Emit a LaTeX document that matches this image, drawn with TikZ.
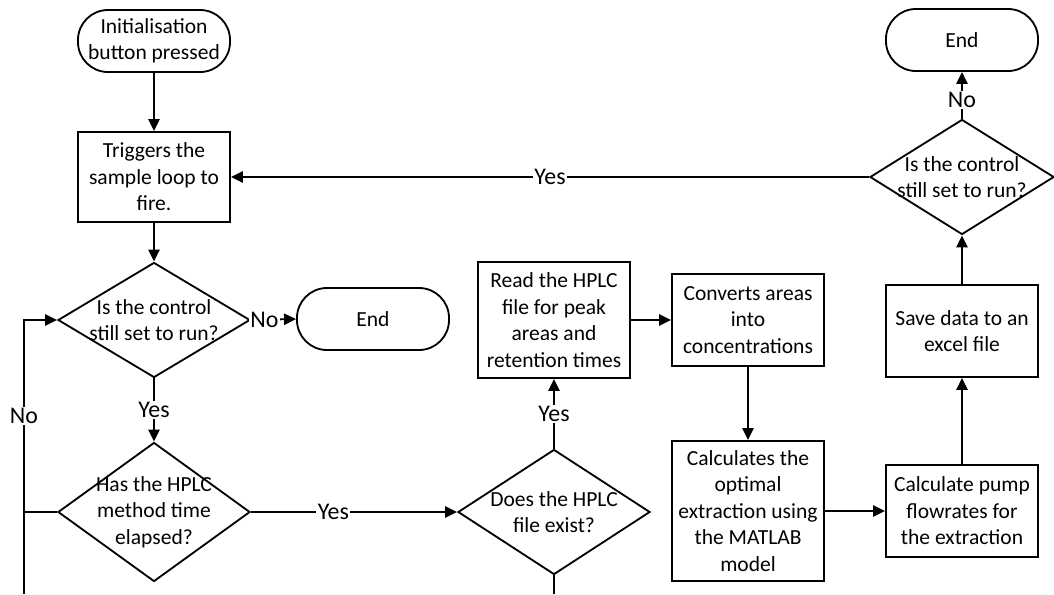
\documentclass[tikz,border=0pt]{standalone}
\usepackage{fontspec}
\setmainfont{Carlito}
\usetikzlibrary{shapes.geometric}
\usetikzlibrary{arrows.meta}

\begin{document}
\begin{tikzpicture}[x=0.025cm, y=-0.025cm, line width=1.3pt]
    \tikzset{
        terminal/.style={rectangle, rounded corners=0.75cm, draw=black, minimum width=3.8cm, minimum height=1.55cm, align=center, font=\fontsize{15.3}{18.8}\selectfont},
        process/.style={rectangle, draw=black, minimum width=3.8cm, align=center, font=\fontsize{15.3}{18.8}\selectfont},
        decision/.style={diamond, draw=black, inner sep=0pt, minimum width=4.8cm},
        every label/.style={align=center, font=\fontsize{15.3}{18.8}\selectfont},
        answer/.style={fill=white, inner sep=1pt, font=\fontsize{17}{20}\selectfont},
        arrow/.style={-{Triangle[length=3mm, width=2.8mm]}}
    }

    \useasboundingbox (0,0) rectangle (1054,594);

    % Start und Probenschleife
    \node[terminal] (init) at (154,41) {Initialisation\\button pressed};
    \node[process, minimum height=2.25cm] (trig) at (154,177) {Triggers the\\sample loop to\\fire.};

    % Linke Spalte: Abfragen
    \node[decision, minimum height=2.875cm, label={center:Is the control\\still set to run?}] (run1) at (154,320) {};
    \node[terminal] (end1) at (373,319) {End};
    \node[decision, minimum height=3.475cm, label={center:Has the HPLC\\method time\\elapsed?}] (elapsed) at (154,512) {};

    % HPLC-Datei
    \node[decision, minimum height=3.125cm, label={center:Does the HPLC\\file exist?}] (exist) at (554,512) {};
    \node[process, minimum height=2.9cm] (read) at (554,320) {Read the HPLC\\file for peak\\areas and\\retention times};

    % Auswertung
    \node[process, minimum height=2.3cm] (conv) at (748,320) {Converts areas\\into\\concentrations};
    \node[process, minimum height=3.5cm] (calc) at (748,511) {Calculates the\\optimal\\extraction using\\the MATLAB\\model};
    \node[process, minimum height=2.3cm] (pump) at (962,511) {Calculate pump\\flowrates for\\the extraction};
    \node[process, minimum height=2.3cm] (save) at (962,331) {Save data to an\\excel file};

    % Rechte Spalte: erneute Abfrage
    \node[decision, minimum width=4.6cm, minimum height=2.875cm, label={center:Is the control\\still set to run?}] (run2) at (962,177) {};
    \node[terminal] (end2) at (962,40) {End};

    % Verbindungen
    \draw[arrow] (init) -- (trig);
    \draw[arrow] (trig) -- (run1);
    \draw[arrow] (run1.east) -- node[answer, pos=0.3] {No} (end1.west);
    \draw[arrow] (run1.south) -- node[answer] {Yes} (elapsed.north);
    \draw[arrow] (elapsed.east) -- node[answer, pos=0.4] {Yes} (exist.west);
    \draw[arrow] (exist.north) -- node[answer] {Yes} (read.south);
    \draw[arrow] (read) -- (conv);
    \draw[arrow] (conv) -- (calc);
    \draw[arrow] (calc) -- (pump);
    \draw[arrow] (pump) -- (save);
    \draw[arrow] (save) -- (run2.south);
    \draw[arrow] (run2.north) -- node[answer, pos=0.4] {No} (end2.south);
    \draw[arrow] (run2.west) -- node[answer] {Yes} (trig.east);

    % Rueckfuehrung links (unten abgeschnitten)
    \coordinate (loop) at (24,594);
    \draw[arrow] (loop) |- node[answer, pos=0.325] {No} (run1.west);
    \draw (elapsed.west) -- (elapsed.west -| loop);
    \draw (exist.south) -- (exist.south |- loop);

\end{tikzpicture}
\end{document}
